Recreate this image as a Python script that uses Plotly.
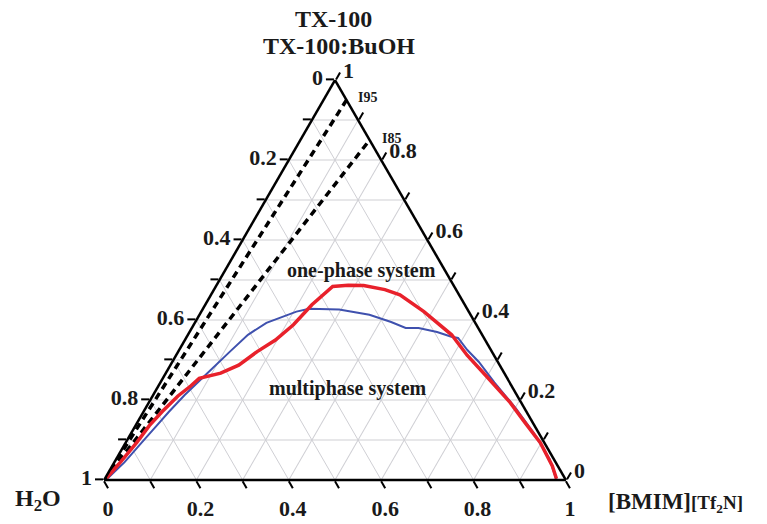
import plotly.graph_objects as go

# ---- data (mass fractions) ----
# red binodal curve
red_tx = [0.005, 0.040, 0.094, 0.136, 0.170, 0.210, 0.235, 0.254, 0.267, 0.287, 0.321,
          0.350, 0.388, 0.438, 0.484, 0.487, 0.486, 0.476, 0.463, 0.421, 0.363, 0.312,
          0.262, 0.194, 0.144, 0.093, 0.035, 0.003]
red_bmim = [0.003, 0.012, 0.024, 0.030, 0.040, 0.055, 0.070, 0.079, 0.119, 0.148, 0.171,
            0.196, 0.216, 0.231, 0.253, 0.285, 0.319, 0.370, 0.409, 0.482, 0.571, 0.630,
            0.695, 0.782, 0.839, 0.898, 0.953, 0.978]
# blue binodal curve
blue_tx = [0.005, 0.044, 0.103, 0.136, 0.170, 0.212, 0.262, 0.321, 0.363, 0.393, 0.421,
           0.428, 0.426, 0.413, 0.395, 0.380, 0.380, 0.370, 0.358, 0.355, 0.325, 0.295,
           0.244, 0.179, 0.118, 0.053, 0.003]
blue_bmim = [0.006, 0.022, 0.037, 0.046, 0.055, 0.068, 0.088, 0.112, 0.130, 0.155, 0.206,
             0.230, 0.296, 0.368, 0.424, 0.463, 0.491, 0.536, 0.573, 0.589, 0.624, 0.664,
             0.723, 0.802, 0.871, 0.938, 0.977]
# dilution lines from the H2O vertex to the TX-100/[BMIM][Tf2N] edge
dil_names = ["I95", "I85"]
dil_start_tx = [0.0, 0.0]
dil_start_bmim = [0.0, 0.0]
dil_end_tx = [0.95, 0.85]
dil_end_bmim = [0.05, 0.15]

tick_vals = [0.0, 0.1, 0.2, 0.3, 0.4, 0.5, 0.6, 0.7, 0.8, 0.9, 1.0]
tick_labels = ["1", "", "0.8", "", "0.6", "", "0.4", "", "0.2", "", "0"]

W, H = 767, 524
L, R, T, B = 60, 157, 80, 44

fig = go.Figure()

for i, name in enumerate(dil_names):
    fig.add_trace(go.Scatterternary(
        a=[dil_start_tx[i], dil_end_tx[i]],
        c=[dil_start_bmim[i], dil_end_bmim[i]],
        mode="lines", name=name,
        line=dict(color="black", width=3.5, dash="7px,5px"),
        showlegend=False, hoverinfo="skip"))

fig.add_trace(go.Scatterternary(
    a=blue_tx, c=blue_bmim, mode="lines",
    line=dict(color="#3f51ae", width=2), showlegend=False))
fig.add_trace(go.Scatterternary(
    a=red_tx, c=red_bmim, mode="lines",
    line=dict(color="#e8212b", width=3.5), showlegend=False))

tickfont = dict(family="Liberation Serif", size=22, color="#1a1a1a", weight="bold")
axis_common = dict(
    title=dict(text=""),
    tickmode="array", tickvals=tick_vals, ticktext=tick_labels,
    tickfont=tickfont, ticks="outside", ticklen=8, tickwidth=2, tickcolor="black",
    showline=True, linecolor="black", linewidth=2.5,
    showgrid=True, gridcolor="#cfcfd4", gridwidth=1, min=0,
)

fig.update_layout(
    width=W, height=H,
    margin=dict(l=L, r=R, t=T, b=B, pad=0),
    paper_bgcolor="white",
    showlegend=False,
    ternary=dict(
        sum=1,
        bgcolor="white",
        domain=dict(x=[0, 1], y=[0, 1]),
        aaxis=dict(axis_common),
        baxis=dict(axis_common),
        caxis=dict(axis_common),
    ),
)


def xp(x):
    return (x - L) / (W - L - R)


def yp(y):
    return (H - B - y) / (H - T - B)


def ann(text, x, y, size, xanchor="center"):
    fig.add_annotation(
        text=text, x=xp(x), y=yp(y), xref="paper", yref="paper",
        xanchor=xanchor, yanchor="middle", showarrow=False,
        font=dict(family="Liberation Serif", size=size, color="#1a1a1a", weight="bold"))


ann("TX-100", 333, 19, 24)
ann("TX-100:BuOH", 339, 46, 24)
ann("H<sub>2</sub>O", 38, 500, 24)
ann("[BMIM]<span style='font-size:19px'>[Tf<sub>2</sub>N]</span>", 606, 502, 23, "left")
ann(dil_names[0], 367, 97, 14)
ann(dil_names[1], 391, 138, 14)
ann("one-phase system", 361, 270, 20)
ann("multiphase system", 348, 388, 20)

fig.write_html("out.html")
